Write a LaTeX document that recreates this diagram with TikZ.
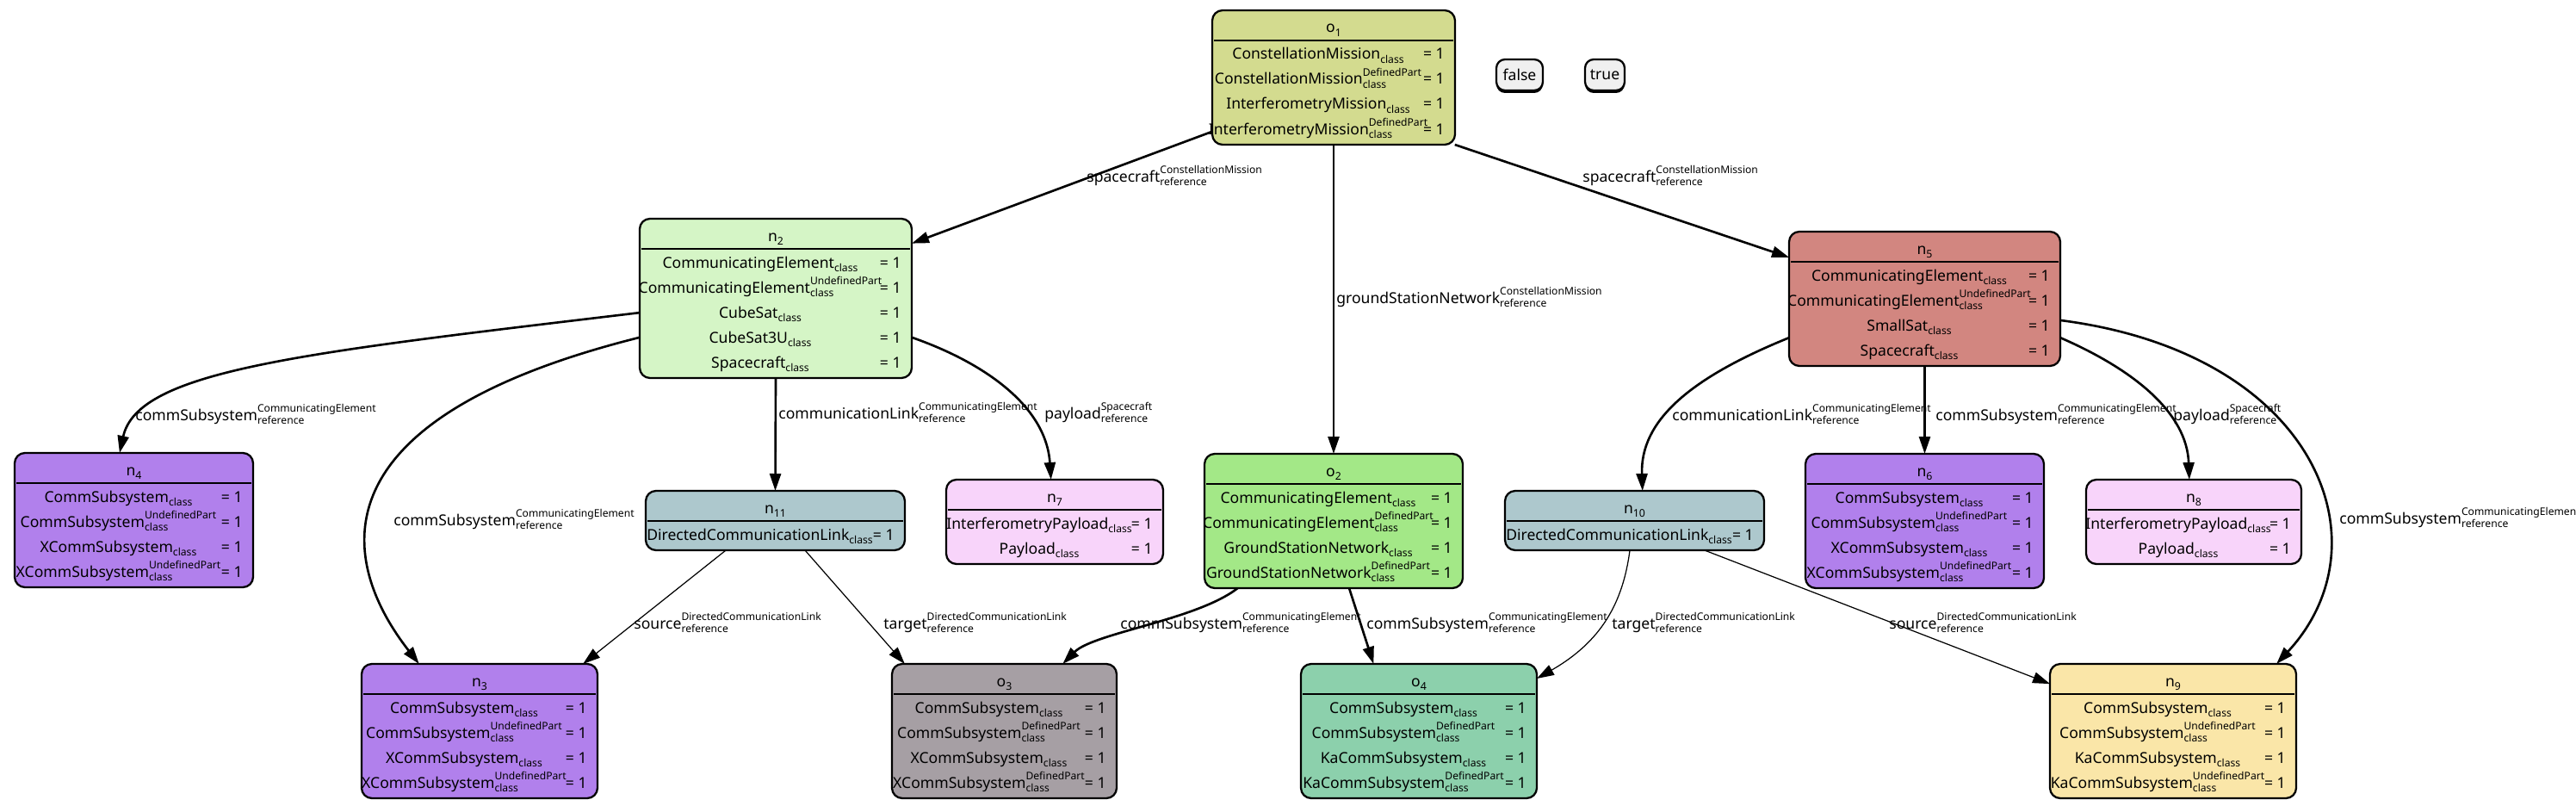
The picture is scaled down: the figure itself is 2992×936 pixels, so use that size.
\documentclass[tikz,border=0pt]{standalone}
\usepackage{fontspec}
\setmainfont{Noto Sans}
\usetikzlibrary{arrows.meta,calc,shadows}

\definecolor{colMission}{RGB}{211,219,143}
\definecolor{colSat}{RGB}{213,245,198}
\definecolor{colSmallSat}{RGB}{210,134,128}
\definecolor{colComm}{RGB}{177,128,236}
\definecolor{colLink}{RGB}{173,200,205}
\definecolor{colPayload}{RGB}{248,212,250}
\definecolor{colGround}{RGB}{163,232,135}
\definecolor{colXComm}{RGB}{166,159,164}
\definecolor{colKaDef}{RGB}{140,208,172}
\definecolor{colKaUndef}{RGB}{250,230,168}
\definecolor{colFlag}{RGB}{240,240,240}

\newsavebox\supbox
\newsavebox\subbox
\newcommand{\lbl}{\fontsize{6.9}{8}\selectfont}
\newcommand{\supsub}[2]{%
  \sbox\supbox{\lbl #1}\sbox\subbox{\lbl\bfseries #2}%
  \rlap{\raisebox{0.55em}{\usebox\supbox}}\rlap{\raisebox{-0.25em}{\usebox\subbox}}%
  \ifdim\wd\supbox>\wd\subbox\hspace*{\wd\supbox}\else\hspace*{\wd\subbox}\fi}
\newcommand{\cls}[1]{#1\raisebox{-0.25em}{\lbl\bfseries class}}
\newcommand{\clsp}[2]{#1\supsub{#2}{class}}
\newcommand{\eref}[2]{#1\supsub{#2}{reference}}
\newcommand{\idx}[2]{#1\raisebox{-0.25em}{\fontsize{7}{8}\selectfont #2}}

\tikzset{
  objbox/.style={draw=black, line width=1.3pt, rounded corners=0.24cm, inner sep=0pt, outer sep=0pt},
  sepline/.style={line width=1.6pt},
  titletxt/.style={inner sep=0pt, anchor=base},
  attrtxt/.style={inner sep=0pt, anchor=base},
  valtxt/.style={inner sep=0pt, anchor=base east},
  edgelbl/.style={inner sep=0pt, anchor=base west},
  refedge/.style={line width=1.5pt, -{Triangle[length=0.4cm,width=0.26cm]}},
  linkedge/.style={line width=0.7pt, -{Triangle[length=0.4cm,width=0.26cm]}},
  flag/.style={draw=black, line width=1.3pt, rounded corners=0.2cm, fill=colFlag, inner sep=0pt,
    minimum height=0.72cm, drop shadow={shadow xshift=0cm, shadow yshift=-0.06cm, fill=black, opacity=1}}
}

% name, left, top, width, rows, colour, title
\newcommand{\objbox}[7]{%
  \node[objbox, fill=#6, anchor=north west, minimum width=0.02cm*#4, minimum height=0.02cm*(40+29*#5)] (#1) at (#2,#3) {};
  \node[titletxt] (#1-t) at ($(#1.north)+(0,26)$) {#7};
  \draw[sepline] ($(#1.north west)+(2,35)$) -- ($(#1.north east)+(-2,35)$);
}
% box, row, text
\newcommand{\attr}[3]{%
  \node[attrtxt] (#1-#2) at ($(#1.north)+(-18,{57+29*(#2-1)})$) {#3};
  \node[valtxt] (#1-#2v) at ($(#1.north east)+(-12,{57+29*(#2-1)})$) {= 1};
}

\begin{document}
\begin{tikzpicture}[x=0.02cm,y=-0.02cm,font=\fontsize{10}{12}\selectfont]
\useasboundingbox (0,0) rectangle (2992,936);
\clip (0,0) rectangle (2992,936);
%Mission
\objbox{o1}{1408}{12}{282}{4}{colMission}{\idx{o}{1}}
\attr{o1}{1}{\cls{ConstellationMission}}
\attr{o1}{2}{\clsp{ConstellationMission}{DefinedPart}}
\attr{o1}{3}{\cls{InterferometryMission}}
\attr{o1}{4}{\clsp{InterferometryMission}{DefinedPart}}
\node[flag, minimum width=1.08cm] (vfalse) at (1765,87) {false};
\node[flag, minimum width=0.92cm] (vtrue) at (1864,87) {true};
%Spacecraft
\objbox{n2}{743}{254}{316}{5}{colSat}{\idx{n}{2}}
\attr{n2}{1}{\cls{CommunicatingElement}}
\attr{n2}{2}{\clsp{CommunicatingElement}{UndefinedPart}}
\attr{n2}{3}{\cls{CubeSat}}
\attr{n2}{4}{\cls{CubeSat3U}}
\attr{n2}{5}{\cls{Spacecraft}}
\objbox{n5}{2078}{269}{315}{4}{colSmallSat}{\idx{n}{5}}
\attr{n5}{1}{\cls{CommunicatingElement}}
\attr{n5}{2}{\clsp{CommunicatingElement}{UndefinedPart}}
\attr{n5}{3}{\cls{SmallSat}}
\attr{n5}{4}{\cls{Spacecraft}}
%Middle row
\objbox{n4}{17}{526}{277}{4}{colComm}{\idx{n}{4}}
\attr{n4}{1}{\cls{CommSubsystem}}
\attr{n4}{2}{\clsp{CommSubsystem}{UndefinedPart}}
\attr{n4}{3}{\cls{XCommSubsystem}}
\attr{n4}{4}{\clsp{XCommSubsystem}{UndefinedPart}}
\objbox{n11}{750}{570}{301}{1}{colLink}{\idx{n}{11}}
\attr{n11}{1}{\cls{DirectedCommunicationLink}}
\objbox{n7}{1099}{557}{252}{2}{colPayload}{\idx{n}{7}}
\attr{n7}{1}{\cls{InterferometryPayload}}
\attr{n7}{2}{\cls{Payload}}
\objbox{o2}{1399}{527}{300}{4}{colGround}{\idx{o}{2}}
\attr{o2}{1}{\cls{CommunicatingElement}}
\attr{o2}{2}{\clsp{CommunicatingElement}{DefinedPart}}
\attr{o2}{3}{\cls{GroundStationNetwork}}
\attr{o2}{4}{\clsp{GroundStationNetwork}{DefinedPart}}
\objbox{n10}{1748}{570}{301}{1}{colLink}{\idx{n}{10}}
\attr{n10}{1}{\cls{DirectedCommunicationLink}}
\objbox{n6}{2097}{527}{277}{4}{colComm}{\idx{n}{6}}
\attr{n6}{1}{\cls{CommSubsystem}}
\attr{n6}{2}{\clsp{CommSubsystem}{UndefinedPart}}
\attr{n6}{3}{\cls{XCommSubsystem}}
\attr{n6}{4}{\clsp{XCommSubsystem}{UndefinedPart}}
\objbox{n8}{2423}{557}{250}{2}{colPayload}{\idx{n}{8}}
\attr{n8}{1}{\cls{InterferometryPayload}}
\attr{n8}{2}{\cls{Payload}}
%Bottom row
\objbox{n3}{420}{771}{274}{4}{colComm}{\idx{n}{3}}
\attr{n3}{1}{\cls{CommSubsystem}}
\attr{n3}{2}{\clsp{CommSubsystem}{UndefinedPart}}
\attr{n3}{3}{\cls{XCommSubsystem}}
\attr{n3}{4}{\clsp{XCommSubsystem}{UndefinedPart}}
\objbox{o3}{1036}{771}{261}{4}{colXComm}{\idx{o}{3}}
\attr{o3}{1}{\cls{CommSubsystem}}
\attr{o3}{2}{\clsp{CommSubsystem}{DefinedPart}}
\attr{o3}{3}{\cls{XCommSubsystem}}
\attr{o3}{4}{\clsp{XCommSubsystem}{DefinedPart}}
\objbox{o4}{1511}{771}{274}{4}{colKaDef}{\idx{o}{4}}
\attr{o4}{1}{\cls{CommSubsystem}}
\attr{o4}{2}{\clsp{CommSubsystem}{DefinedPart}}
\attr{o4}{3}{\cls{KaCommSubsystem}}
\attr{o4}{4}{\clsp{KaCommSubsystem}{DefinedPart}}
\objbox{n9}{2381}{771}{286}{4}{colKaUndef}{\idx{n}{9}}
\attr{n9}{1}{\cls{CommSubsystem}}
\attr{n9}{2}{\clsp{CommSubsystem}{UndefinedPart}}
\attr{n9}{3}{\cls{KaCommSubsystem}}
\attr{n9}{4}{\clsp{KaCommSubsystem}{UndefinedPart}}
%Edges
\draw[refedge] (o1.204) -- (n2.22);
\draw[refedge] (o1.south) -- (o2.north);
\draw[refedge] (o1.331) -- (n5.163);
\draw[refedge] (n2.186) .. controls (350,410) and (160,430) .. (n4.102);
\draw[refedge] (n2.196) .. controls (350,490) and (400,660) .. (n3.132);
\draw[refedge] (n2.south) -- (n11.north);
\draw[refedge] (n2.344) .. controls (1140,420) and (1215,470) .. (n7.95);
\draw[linkedge] (n11.211) -- (n3.33);
\draw[linkedge] (n11.315) -- (o3.146);
\draw[refedge] (o2.215) .. controls (1390,720) and (1270,735) .. (o3.49);
\draw[refedge] (o2.283) -- (o4.124);
\draw[refedge] (n5.196) .. controls (1960,440) and (1905,490) .. (n10.75);
\draw[refedge] (n5.south) -- (n6.north);
\draw[refedge] (n5.344) .. controls (2480,430) and (2540,480) .. (n8.96);
\draw[refedge] (n5.351) .. controls (2690,410) and (2775,630) .. (n9.33);
\draw[linkedge] (n10.261) .. controls (1885,700) and (1860,745) .. (o4.24);
\draw[linkedge] (n10.337) -- (n9.159);
%Edge labels
\node[edgelbl] (lb-o1n2) at (1262,211) {\eref{spacecraft}{ConstellationMission}};
\node[edgelbl] (lb-o1o2) at (1552,352) {\eref{groundStationNetwork}{ConstellationMission}};
\node[edgelbl] (lb-o1n5) at (1838,211) {\eref{spacecraft}{ConstellationMission}};
\node[edgelbl] (lb-n2n4) at (157,488) {\eref{commSubsystem}{CommunicatingElement}};
\node[edgelbl] (lb-n2n3) at (457,610) {\eref{commSubsystem}{CommunicatingElement}};
\node[edgelbl] (lb-n2n11) at (904,486) {\eref{communicationLink}{CommunicatingElement}};
\node[edgelbl] (lb-n2n7) at (1213,486) {\eref{payload}{Spacecraft}};
\node[edgelbl] (lb-n11n3) at (736,730) {\eref{source}{DirectedCommunicationLink}};
\node[edgelbl] (lb-n11o3) at (1026,730) {\eref{target}{DirectedCommunicationLink}};
\node[edgelbl] (lb-o2o3) at (1301,730) {\eref{commSubsystem}{CommunicatingElement}};
\node[edgelbl] (lb-o2o4) at (1587,730) {\eref{commSubsystem}{CommunicatingElement}};
\node[edgelbl] (lb-n5n10) at (1942,488) {\eref{communicationLink}{CommunicatingElement}};
\node[edgelbl] (lb-n5n6) at (2248,488) {\eref{commSubsystem}{CommunicatingElement}};
\node[edgelbl] (lb-n5n8) at (2524,488) {\eref{payload}{Spacecraft}};
\node[edgelbl] (lb-n5n9) at (2717,608) {\eref{commSubsystem}{CommunicatingElement}};
\node[edgelbl] (lb-n10o4) at (1872,730) {\eref{target}{DirectedCommunicationLink}};
\node[edgelbl] (lb-n10n9) at (2194,730) {\eref{source}{DirectedCommunicationLink}};
\end{tikzpicture}
\end{document}
